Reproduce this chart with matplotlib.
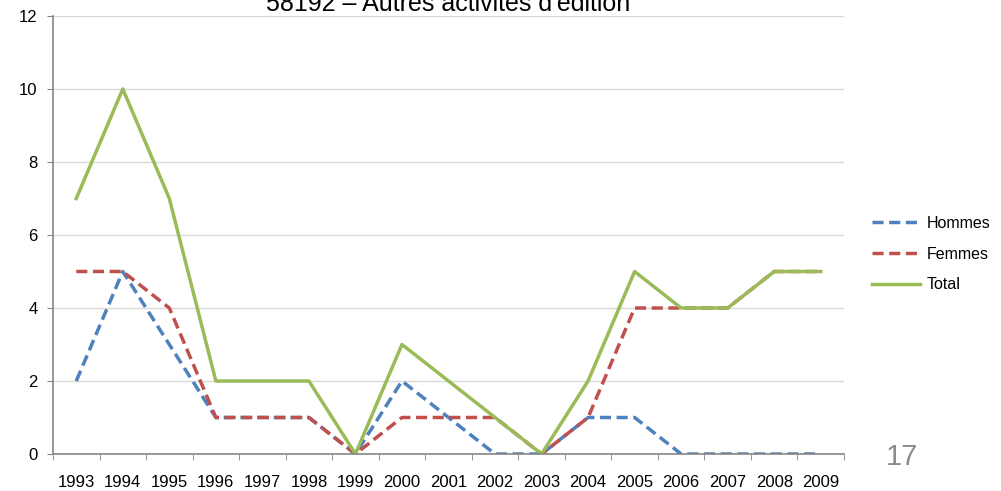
import matplotlib
matplotlib.use("Agg")
import matplotlib.pyplot as plt
from matplotlib.ticker import MultipleLocator, FixedLocator

# données
annees = [1993, 1994, 1995, 1996, 1997, 1998, 1999, 2000, 2001,
          2002, 2003, 2004, 2005, 2006, 2007, 2008, 2009]
hommes = [2, 5, 3, 1, 1, 1, 0, 2, 1, 0, 0, 1, 1, 0, 0, 0, 0]
femmes = [5, 5, 4, 1, 1, 1, 0, 1, 1, 1, 0, 1, 4, 4, 4, 5, 5]
total = [7, 10, 7, 2, 2, 2, 0, 3, 2, 1, 0, 2, 5, 4, 4, 5, 5]

titre = "58192 \u2013 Autres activit\u00e9s d'\u00e9dition"
numero_page = "17"

plt.rcParams['font.family'] = ['Liberation Sans', 'DejaVu Sans']

W, H = 1001, 491
fig = plt.figure(figsize=(W / 100, H / 100), dpi=100)
ax = fig.add_axes([53 / W, (H - 454) / H, (844 - 53) / W, (454 - 16) / H])

x = list(range(len(annees)))
ax.plot(x, hommes, color='#4F81BD', lw=2.5, dashes=(3.2, 1.6), label='Hommes')
ax.plot(x, femmes, color='#C0504D', lw=2.5, dashes=(3.2, 1.6), label='Femmes')
ax.plot(x, total, color='#9BBB59', lw=2.5, label='Total')

ax.set_xlim(-0.5, len(annees) - 0.5)
ax.set_ylim(0, 12)
ax.yaxis.set_major_locator(MultipleLocator(2))
ax.set_xticks(x)
ax.set_xticklabels([str(a) for a in annees])
ax.xaxis.set_minor_locator(FixedLocator([i - 0.5 for i in range(len(annees) + 1)]))

ax.grid(axis='y', color='#D9D9D9', lw=1)
ax.set_axisbelow(True)
for s in ['top', 'right']:
    ax.spines[s].set_visible(False)
for s in ['left', 'bottom']:
    ax.spines[s].set_color('#868686')
    ax.spines[s].set_linewidth(1.2)

ax.tick_params(axis='x', which='major', length=0, pad=15, labelsize=12)
ax.tick_params(axis='x', which='minor', length=4, color='#868686', direction='out')
ax.tick_params(axis='y', length=4, color='#868686', pad=7, labelsize=12)

fig.legend(loc='center left', bbox_to_anchor=(872 / W, (H - 254) / H),
           frameon=False, fontsize=11.5, handlelength=3.0, handletextpad=0.45,
           labelspacing=1.0, borderpad=0, borderaxespad=0)

fig.text(448 / W, (H - 11) / H, titre, ha='center', va='baseline', fontsize=18)
fig.text(902 / W, (H - 457) / H, numero_page, ha='center', va='center',
         fontsize=21, color='#8C8C8C')

fig.savefig('out.png', dpi=100)
